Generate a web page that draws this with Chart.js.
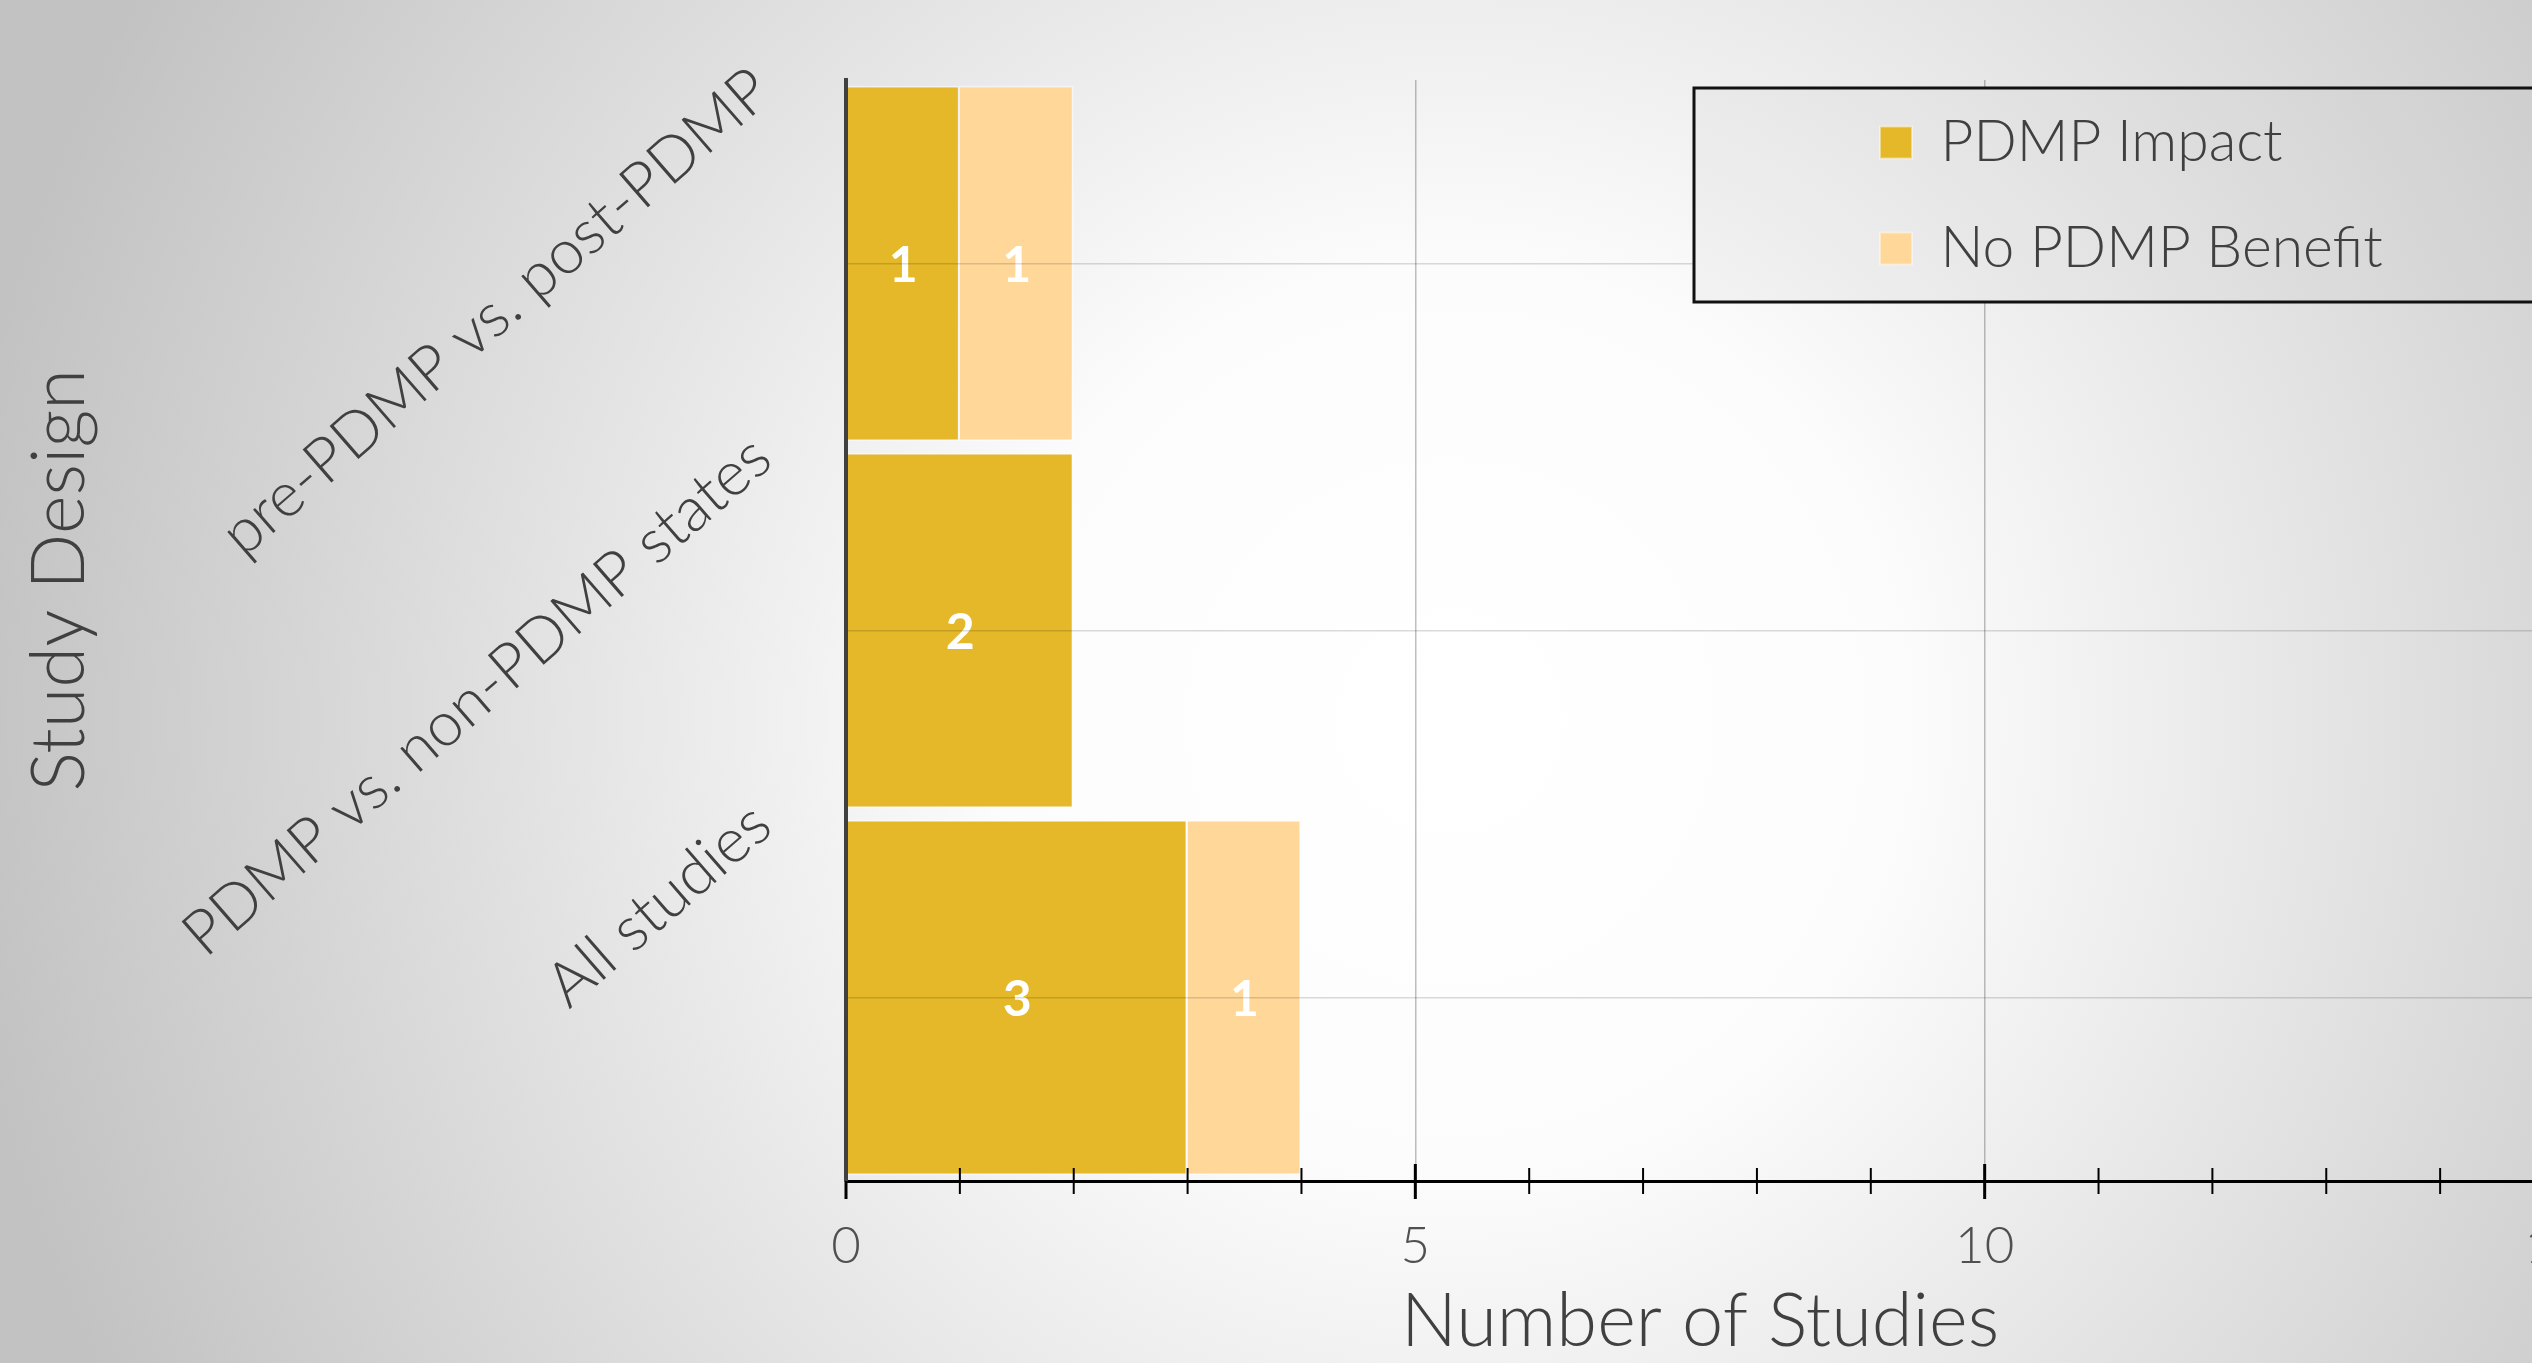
<!DOCTYPE html>
<html>
<head>
<meta charset="utf-8">
<script src="https://cdn.jsdelivr.net/npm/chart.js@4.4.1/dist/chart.umd.min.js"></script>
<style>
  html, body { margin: 0; padding: 0; overflow: hidden; background: #d0d0d0; }
  #contenedor { position: relative; width: 2600px; height: 1363px; }
</style>
</head>
<body>
<div id="contenedor"><canvas id="michart"></canvas></div>
<script>
const disenos = ['pre-PDMP vs. post-PDMP', 'PDMP vs. non-PDMP states', 'All studies']
const conImpacto = [1, 2, 3]
const sinBeneficio = [1, 0, 1]
const nombresSeries = ['PDMP Impact', 'No PDMP Benefit']
const marcasX = [0, 5, 10, 15]

const fuente = 'Lato, "Open Sans", sans-serif'

const degradado = (ctx) => {
  const g = ctx.createRadialGradient(1450, 720, 0, 1450, 720, 1500)
  g.addColorStop(0, '#ffffff')
  g.addColorStop(0.3, '#fcfcfc')
  g.addColorStop(1, '#c2c2c2')
  return g
}

// fondo degradado
const fondo = {
  id: 'fondo',
  beforeDraw(chart) {
    const {ctx, width, height} = chart
    ctx.save()
    ctx.fillStyle = degradado(ctx)
    ctx.fillRect(0, 0, width, height)
    ctx.restore()
  }
}

// mueve la leyenda dentro del marco
const leyendaDentro = {
  id: 'leyendaDentro',
  afterLayout(chart) {
    const lg = chart.legend
    lg.left = 1831
    lg.top = 65
    lg.right = lg.left + lg.width
    lg.height = 320
    lg.bottom = lg.top + lg.height
  },
  afterDraw(chart) {
    // marco encima de las lineas de la cuadricula, y la leyenda otra vez encima
    const {ctx} = chart
    ctx.save()
    ctx.fillStyle = degradado(ctx)
    ctx.fillRect(1694, 88, 950, 214)
    ctx.fillStyle = 'rgba(200,200,200,0.15)'
    ctx.fillRect(1694, 88, 950, 214)
    ctx.lineWidth = 3
    ctx.strokeStyle = '#111'
    ctx.strokeRect(1694, 88, 950, 214)
    ctx.restore()
    chart.legend.draw()
  }
}

// numeros blancos dentro de las barras
const etiquetas = {
  id: 'etiquetas',
  afterDatasetsDraw(chart) {
    const {ctx} = chart
    ctx.save()
    ctx.fillStyle = '#ffffff'
    ctx.font = '700 50px ' + fuente
    ctx.textAlign = 'center'
    ctx.textBaseline = 'middle'
    chart.data.datasets.forEach((ds, i) => {
      chart.getDatasetMeta(i).data.forEach((barra, j) => {
        const v = ds.data[j]
        if (!v) return
        ctx.fillText(v, (barra.x + barra.base) / 2, barra.y + 2)
      })
    })
    ctx.restore()
  }
}

// marcas del eje x que cruzan la linea
const marcas = {
  id: 'marcas',
  afterDraw(chart) {
    const {ctx} = chart
    const ex = chart.scales.x
    const y0 = ex.top
    ctx.save()
    ctx.strokeStyle = '#000'
    ex.ticks.forEach(t => {
      const px = ex.getPixelForValue(t.value)
      const mayor = t.value % 5 === 0
      ctx.lineWidth = mayor ? 3 : 2
      ctx.beginPath()
      ctx.moveTo(px, t.value === 0 ? y0 : y0 - (mayor ? 17 : 13))
      ctx.lineTo(px, y0 + (mayor ? 18 : 13))
      ctx.stroke()
    })
    ctx.restore()
  }
}

const data = {
  labels: disenos,
  datasets: [{
    label: nombresSeries[0],
    data: conImpacto,
    backgroundColor: '#E4B828',
    borderColor: 'rgba(255,255,255,0.45)',
    borderWidth: 2,
    categoryPercentage: 1,
    barPercentage: 0.97
  }, {
    label: nombresSeries[1],
    data: sinBeneficio,
    backgroundColor: '#FED799',
    borderColor: 'rgba(255,255,255,0.45)',
    borderWidth: 2,
    categoryPercentage: 1,
    barPercentage: 0.97
  }]
}

const config = {
  type: 'bar',
  data,
  options: {
    indexAxis: 'y',
    responsive: true,
    maintainAspectRatio: false,
    animation: false,
    layout: { padding: { top: 80, right: 46, bottom: 0, left: 0 } },
    plugins: {
      tooltip: { enabled: false },
      legend: {
        position: 'chartArea',
        align: 'start',
        labels: {
          boxWidth: 32,
          boxHeight: 32,
          padding: 49,
          color: '#404040',
          font: { family: fuente, weight: 300, size: 57 }
        }
      }
    },
    scales: {
      x: {
        type: 'linear',
        stacked: true,
        min: 0,
        max: 15,
        afterFit(s) { s.height = 182; s.paddingLeft = 0; s.paddingRight = 0 },
        ticks: {
          stepSize: 1,
          autoSkip: false,
          maxRotation: 0,
          padding: 35,
          color: '#505050',
          font: { family: fuente, weight: 300, size: 51 },
          callback: v => marcasX.includes(v) ? v : ''
        },
        grid: {
          color: c => (c.tick && c.tick.value % 5 === 0 && c.tick.value > 0) ? 'rgba(0,0,0,0.25)' : 'rgba(0,0,0,0)',
          lineWidth: 1.5,
          drawTicks: false
        },
        border: { color: '#000', width: 3 },
        title: {
          display: true,
          text: 'Number of Studies',
          color: '#404040',
          font: { family: fuente, weight: 300, size: 74, lineHeight: 1 },
          padding: { top: 0, bottom: 4 }
        }
      },
      y: {
        type: 'category',
        stacked: true,
        afterFit(s) { s.width = 846; s.paddingTop = 0; s.paddingBottom = 0 },
        ticks: {
          autoSkip: false,
          minRotation: 41,
          maxRotation: 41,
          labelOffset: -182,
          padding: 84,
          color: '#404040',
          font: { family: fuente, weight: 300, size: 62 }
        },
        grid: { offset: false, drawTicks: false, color: 'rgba(0,0,0,0.14)', lineWidth: 1.5, z: 1 },
        border: { color: '#404040', width: 4, z: 2 },
        title: {
          display: true,
          text: '     Study Design',
          color: '#404040',
          font: { family: fuente, weight: 300, size: 74, lineHeight: 1 },
          padding: { top: 23, bottom: 0 }
        }
      }
    }
  },
  plugins: [fondo, leyendaDentro, etiquetas, marcas]
}

document.addEventListener('DOMContentLoaded', () => {
  const chart1 = new Chart(document.getElementById('michart'), config)
})
</script>
</body>
</html>
